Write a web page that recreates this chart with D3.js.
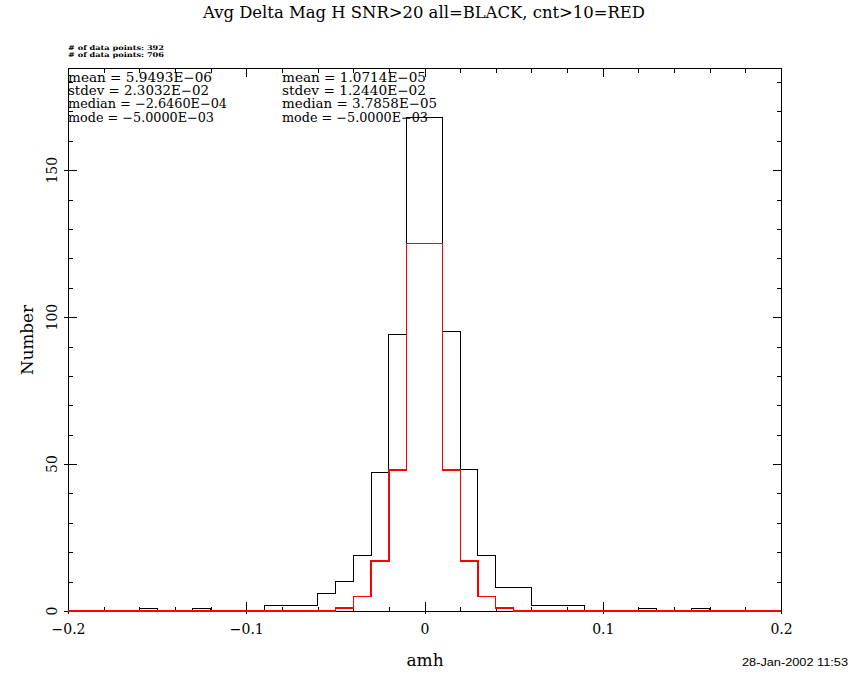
<!DOCTYPE html>
<html>
<head>
<meta charset="utf-8">
<script src="https://cdn.jsdelivr.net/npm/d3@7"></script>
<style>
  html, body { margin: 0; padding: 0; background: #fff; }
  svg { display: block; }
  text { fill: #000; }
</style>
</head>
<body>
<svg id="chart" width="850" height="680"></svg>
<script>
// ---------------- data ----------------
const titleText = "Avg Delta Mag H SNR>20 all=BLACK, cnt>10=RED";
const xLabel = "amh";
const yLabel = "Number";
const dateText = "28-Jan-2002 11:53";
const binStart = -0.2;
const binWidth = 0.01;
// 40 bins from -0.2 to 0.2 (all points, black)
const allCounts = [0,0,0,0,1,0,0,1,0,0, 0,2,2,2,6,10,19,47,94,168, 168,95,48,19,8,8,2,2,2,0, 0,0,1,0,0,1,0,0,0,0];
// cnt>10 points (red)
const cntCounts = [0,0,0,0,0,0,0,0,0,0, 0,0,0,0,0,1,5,17,48,125, 125,48,17,5,1,0,0,0,0,0, 0,0,0,0,0,0,0,0,0,0];
const xDomain = [-0.2, 0.2];
const yMax = 184.8;
const xMajorTicks = [-0.2, -0.1, 0, 0.1, 0.2];
const xTickLabels = ["\u22120.2", "\u22120.1", "0", "0.1", "0.2"];
const yMajorTicks = [0, 50, 100, 150];
const yTickLabels = ["0", "50", "100", "150"];
const countLines = ["# of data points: 392", "# of data points: 706"];
const statsAll = ["mean =  5.9493E\u221206", "stdev =  2.3032E\u221202", "median = \u22122.6460E\u221204", "mode = \u22125.0000E\u221203"];
const statsCnt = ["mean =  1.0714E\u221205", "stdev =  1.2440E\u221202", "median =  3.7858E\u221205", "mode = \u22125.0000E\u221203"];

// ---------------- layout ----------------
const L = 68, R = 781, T = 68, B = 611;
const svg = d3.select("#chart");
const x = d3.scaleLinear().domain(xDomain).range([L, R]);
const y = d3.scaleLinear().domain([0, yMax]).range([B, T]);
const serif = "'DejaVu Serif', 'Liberation Serif', serif";

const xMinor = d3.range(-0.2, 0.2001, 0.02).filter(v => !xMajorTicks.some(m => Math.abs(m - v) < 1e-9));
const yMinor = d3.range(0, 181, 10).filter(v => v % 50 !== 0);

function styleAxis(g) {
  g.select(".domain").remove();
  g.selectAll("line").attr("stroke", "#000").attr("stroke-width", 1).attr("shape-rendering", "crispEdges");
}

// bottom axis
svg.append("g").attr("transform", `translate(0,${B})`)
  .call(d3.axisBottom(x).tickValues(xMajorTicks).tickSizeInner(-9).tickSizeOuter(0)
        .tickPadding(13).tickFormat((d, i) => xTickLabels[i]))
  .call(styleAxis)
  .call(g => g.selectAll("text").attr("font-family", serif).attr("font-size", 14).attr("fill", "#000"));
svg.append("g").attr("transform", `translate(0,${B})`)
  .call(d3.axisBottom(x).tickValues(xMajorTicks).tickSize(3).tickFormat(""))
  .call(styleAxis);
svg.append("g").attr("transform", `translate(0,${B})`)
  .call(d3.axisBottom(x).tickValues(xMinor).tickSize(-4.5).tickFormat(""))
  .call(styleAxis);
// top axis
svg.append("g").attr("transform", `translate(0,${T})`)
  .call(d3.axisTop(x).tickValues(xMajorTicks).tickSize(-9).tickFormat(""))
  .call(styleAxis);
svg.append("g").attr("transform", `translate(0,${T})`)
  .call(d3.axisTop(x).tickValues(xMinor).tickSize(-4.5).tickFormat(""))
  .call(styleAxis);
// left axis
svg.append("g").attr("transform", `translate(${L},0)`)
  .call(d3.axisLeft(y).tickValues(yMajorTicks).tickSizeInner(-9).tickSizeOuter(0).tickFormat(""))
  .call(styleAxis);
svg.append("g").attr("transform", `translate(${L},0)`)
  .call(d3.axisLeft(y).tickValues(yMajorTicks).tickSize(4).tickFormat(""))
  .call(styleAxis);
svg.append("g").attr("transform", `translate(${L},0)`)
  .call(d3.axisLeft(y).tickValues(yMinor).tickSize(-5).tickFormat(""))
  .call(styleAxis);
// right axis
svg.append("g").attr("transform", `translate(${R},0)`)
  .call(d3.axisRight(y).tickValues(yMajorTicks).tickSize(-8).tickFormat(""))
  .call(styleAxis);
svg.append("g").attr("transform", `translate(${R},0)`)
  .call(d3.axisRight(y).tickValues(yMinor).tickSize(-4).tickFormat(""))
  .call(styleAxis);

// y tick labels (rotated)
svg.append("g").selectAll("text").data(yMajorTicks).join("text")
  .attr("transform", d => `translate(57,${y(d)}) rotate(-90)`)
  .attr("text-anchor", "middle")
  .attr("font-family", serif).attr("font-size", 14)
  .text((d, i) => yTickLabels[i]);

// histograms
function stepPoints(counts) {
  const pts = counts.map((c, i) => [binStart + i * binWidth, c]);
  pts.push([binStart + counts.length * binWidth, counts[counts.length - 1]]);
  return pts;
}
const line = d3.line().x(d => x(d[0])).y(d => y(d[1])).curve(d3.curveStepAfter);
svg.append("path").attr("d", line(stepPoints(allCounts)))
  .attr("fill", "none").attr("stroke", "#000").attr("stroke-width", 1).attr("shape-rendering", "crispEdges");

// frame
svg.append("rect").attr("x", L).attr("y", T).attr("width", R - L).attr("height", B - T)
  .attr("fill", "none").attr("stroke", "#000").attr("stroke-width", 1).attr("shape-rendering", "crispEdges");
// red histogram drawn last (covers the baseline where it is zero)
svg.append("path").attr("d", line(stepPoints(cntCounts)))
  .attr("fill", "none").attr("stroke", "#ff0000").attr("stroke-width", 1.3).attr("shape-rendering", "crispEdges");

// title
svg.append("text").attr("x", 424).attr("y", 18).attr("text-anchor", "middle")
  .attr("font-family", serif).attr("font-size", 16)
  .attr("textLength", 442).attr("lengthAdjust", "spacingAndGlyphs")
  .text(titleText);

// axis labels
svg.append("text").attr("x", 425).attr("y", 666).attr("text-anchor", "middle")
  .attr("font-family", serif).attr("font-size", 17).text(xLabel);
svg.append("text").attr("transform", "translate(33,340) rotate(-90)").attr("text-anchor", "middle")
  .attr("font-family", serif).attr("font-size", 17)
  .attr("textLength", 70).attr("lengthAdjust", "spacingAndGlyphs").text(yLabel);

// date
svg.append("text").attr("x", 848).attr("y", 666).attr("text-anchor", "end")
  .attr("font-family", "'Liberation Sans', Arial, sans-serif").attr("font-size", 10)
  .attr("textLength", 106).attr("lengthAdjust", "spacingAndGlyphs").text(dateText);

// data point counts
countLines.forEach((t, i) => {
  svg.append("text").attr("x", 68).attr("y", 50 + i * 7)
    .attr("font-family", serif).attr("font-size", 6.5).attr("font-weight", "bold")
    .attr("textLength", 96).attr("lengthAdjust", "spacingAndGlyphs").text(t);
});

// statistics
const statW1 = [144, 141, 159, 146];
const statW2 = [144, 144, 155, 146];
statsAll.forEach((t, i) => {
  svg.append("text").attr("x", 68).attr("y", 81.5 + i * 13.4)
    .attr("font-family", serif).attr("font-size", 12.5)
    .attr("textLength", statW1[i]).attr("lengthAdjust", "spacingAndGlyphs").text(t);
});
statsCnt.forEach((t, i) => {
  svg.append("text").attr("x", 282).attr("y", 81.5 + i * 13.4)
    .attr("font-family", serif).attr("font-size", 12.5)
    .attr("textLength", statW2[i]).attr("lengthAdjust", "spacingAndGlyphs").text(t);
});
</script>
</body>
</html>
